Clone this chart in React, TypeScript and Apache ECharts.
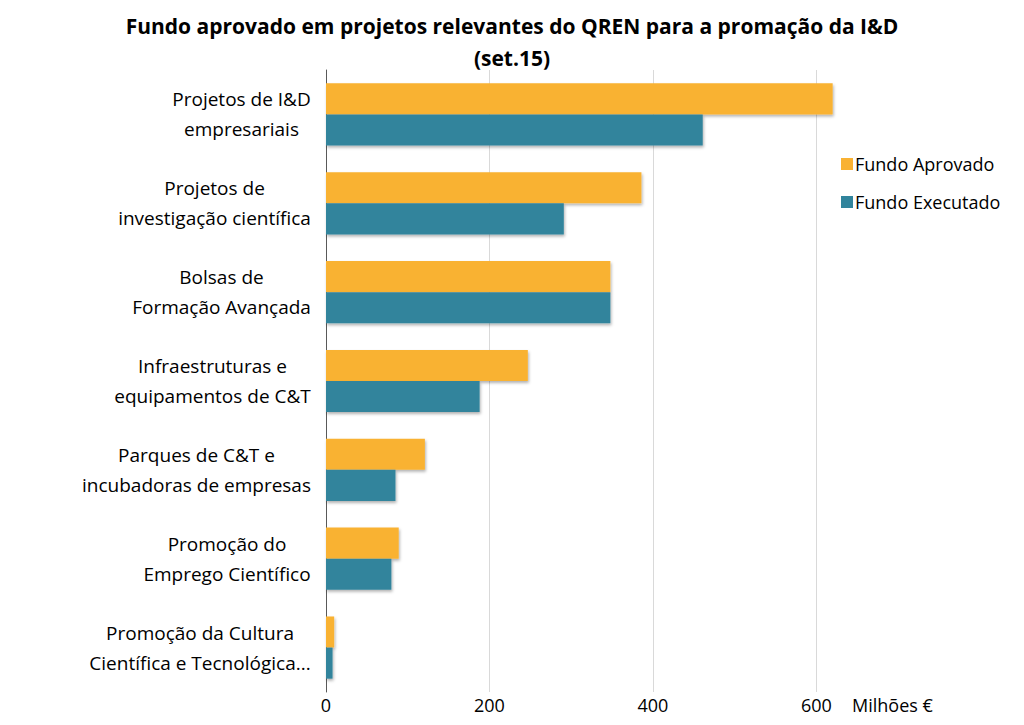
import React, { useEffect, useRef } from "react";
import * as echarts from "echarts";

const categories: string[] = [
  "Projetos de I&D\nempresariais",
  "Projetos de\ninvestigação científica",
  "Bolsas de\nFormação Avançada",
  "Infraestruturas e\nequipamentos de C&T",
  "Parques de C&T e\nincubadoras de empresas",
  "Promoção do\nEmprego Científico",
  "Promoção da Cultura\nCientífica e Tecnológica...",
];
const seriesNames: string[] = ["Fundo Aprovado", "Fundo Executado"];
const fundoAprovado: number[] = [620, 386, 348, 247, 121, 89, 10];
const fundoExecutado: number[] = [461, 291, 348, 188, 85, 80, 8];
const xTicks: number[] = [0, 200, 400, 600];
const titleText = "Fundo aprovado em projetos relevantes do QREN para a promação da I&D\n(set.15)";
const unitLabel = "Milhões €";

const FONT = "'Open Sans', 'Noto Sans', sans-serif";
const LABEL_SIZE = 19;

function measure(text: string, size: number): number {
  const c = document.createElement("canvas");
  const ctx = c.getContext("2d");
  if (!ctx) return text.length * size * 0.55;
  ctx.font = `${size}px 'Open Sans'`;
  return ctx.measureText(text).width;
}

export default function App() {
  const ref = useRef<HTMLDivElement>(null);
  useEffect(() => {
    if (!ref.current) return;
    const chart = echarts.init(ref.current, null, { renderer: "svg" });
    const rich: Record<string, any> = {};
    categories.forEach((c, i) => {
      const w = Math.max(...c.split("\n").map((l) => measure(l, LABEL_SIZE)));
      rich["c" + i] = {
        width: Math.ceil(w) + 2,
        align: "center",
        fontSize: LABEL_SIZE,
        fontFamily: FONT,
        color: "#000",
        lineHeight: 30,
      };
    });
    chart.setOption({
      animation: false,
      backgroundColor: "#fff",
      title: {
        text: titleText,
        left: "center",
        top: 5,
        textStyle: {
          fontFamily: FONT,
          fontSize: 21,
          fontWeight: "bold",
          color: "#000",
          lineHeight: 32,
        },
      },
      legend: {
        orient: "vertical",
        left: 836,
        top: 150,
        itemWidth: 12,
        itemHeight: 12,
        itemGap: 20,
        icon: "rect",
        data: seriesNames,
        textStyle: { fontFamily: FONT, fontSize: 18, color: "#000", padding: [0, 0, 0, -3] },
      },
      grid: { left: 326, right: 175, top: 70, bottom: 33, containLabel: false },
      xAxis: {
        type: "value",
        min: 0,
        max: 640,
        interval: 200,
        name: unitLabel,
        nameLocation: "end",
        nameGap: 3,
        nameTextStyle: {
          fontFamily: FONT,
          fontSize: 18,
          color: "#000",
          verticalAlign: "top",
          padding: [4, 0, 0, 0],
        },
        axisLine: { show: false },
        axisTick: { show: false },
        axisLabel: {
          showMaxLabel: false,
          margin: 4,
          fontFamily: FONT,
          fontSize: 18,
          color: "#000",
          formatter: (v: number) => (xTicks.includes(v) ? String(v) : ""),
        },
        splitLine: { show: true, showMaxLine: false, lineStyle: { color: "#d9d9d9", width: 1 } },
      },
      yAxis: {
        type: "category",
        inverse: true,
        data: categories,
        axisLine: { show: true, lineStyle: { color: "#595959", width: 1 } },
        axisTick: { show: false },
        axisLabel: {
          margin: 14,
          align: "right",
          formatter: (v: string, i: number) =>
            v
              .split("\n")
              .map((l) => `{c${i}|${l}}`)
              .join("\n"),
          rich,
        },
      },
      series: [
        {
          name: seriesNames[0],
          type: "bar",
          data: fundoAprovado,
          barGap: "0%",
          barCategoryGap: "30%",
          itemStyle: {
            color: "#F9B233",
            shadowBlur: 3,
            shadowColor: "rgba(0,0,0,0.3)",
            shadowOffsetX: 1,
            shadowOffsetY: 2,
          },
        },
        {
          name: seriesNames[1],
          type: "bar",
          data: fundoExecutado,
          barGap: "0%",
          barCategoryGap: "30%",
          itemStyle: {
            color: "#31849C",
            shadowBlur: 3,
            shadowColor: "rgba(0,0,0,0.3)",
            shadowOffsetX: 1,
            shadowOffsetY: 2,
          },
        },
      ],
    });
    return () => chart.dispose();
  }, []);
  return (
    <div
      ref={ref}
      style={{ position: "fixed", left: 0, top: 0, width: 1024, height: 725, background: "#fff" }}
    />
  );
}
